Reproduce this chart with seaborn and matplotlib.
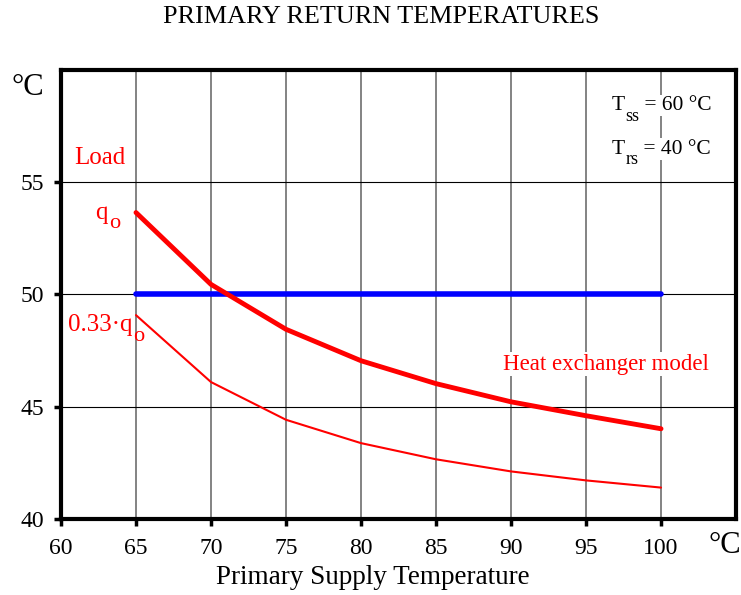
import numpy as np
import pandas as pd
import matplotlib
matplotlib.use('Agg')
import matplotlib.pyplot as plt
import seaborn as sns

# supply temperatures (x) and return temperatures for the two load cases
supply = [65, 70, 75, 80, 85, 90, 95, 100]
return_full = [53.65, 50.45, 48.45, 47.05, 46.03, 45.22, 44.6, 44.02]
return_033 = [49.08, 46.1, 44.42, 43.38, 42.66, 42.12, 41.72, 41.4]
blue_x = [65, 100]
blue_y = [50, 50]

df = pd.DataFrame({'supply': supply, 'full': return_full, 'part': return_033})
df_blue = pd.DataFrame({'supply': blue_x, 'ret': blue_y})

sns.set_style('white')
plt.rcParams['font.family'] = ['Liberation Serif', 'DejaVu Serif']
plt.rcParams['text.color'] = 'black'
plt.rcParams['axes.labelcolor'] = 'black'
plt.rcParams['xtick.color'] = 'black'
plt.rcParams['ytick.color'] = 'black'

fig = plt.figure(figsize=(7.41, 5.95), dpi=100)
ax = fig.add_axes([0.0823, 0.1277, 0.911, 0.7547])

# grid: grey verticals, black horizontals
for x in range(65, 101, 5):
    ax.axvline(x, color='#7a7a7a', lw=1.3, zorder=0)
for y in [45, 50, 55]:
    ax.axhline(y, color='black', lw=0.8, zorder=0)

sns.lineplot(data=df, x='supply', y='full', color='#ff0000', lw=3.5, ax=ax, zorder=3)
sns.lineplot(data=df, x='supply', y='part', color='#ff0000', lw=1.5, ax=ax, zorder=3)
sns.lineplot(data=df_blue, x='supply', y='ret', color='#0000ff', lw=4, ax=ax, zorder=2)

ax.set_xlim(60, 105)
ax.set_ylim(40, 60)
ax.set_xticks(range(60, 101, 5))
ax.set_yticks([40, 45, 50, 55])
ax.tick_params(bottom=True, left=True, direction='out', length=5, width=2.5,
               labelsize=17, color='black')
ax.tick_params(axis='x', pad=9)
ax.tick_params(axis='y', pad=7)
for s in ax.spines.values():
    s.set_linewidth(3)
    s.set_color('black')

ax.set_xlabel('')
ax.set_ylabel('')
fig.text(0.503, 0.029, 'Primary Supply Temperature', ha='center', va='center', fontsize=19.5)
fig.text(0.514, 0.972, 'PRIMARY RETURN TEMPERATURES', ha='center', va='center', fontsize=18.8)

fig.text(0.037, 0.853, '°C', fontsize=22, ha='center', va='center')
fig.text(0.978, 0.084, '°C', fontsize=22, ha='center', va='center')


def sub_text(x, y, main, sub, rest='', size=18, subsize=15, drop=-6, color='black', bbox=None):
    # main text, lowered subscript, then the rest on the main baseline
    t = ax.text(x, y, main, color=color, fontsize=size, ha='left', va='bottom', bbox=bbox)
    s = ax.annotate(sub, xy=(1, 0), xycoords=t, xytext=(0.5, drop), textcoords='offset points',
                    color=color, fontsize=subsize, ha='left', va='bottom', bbox=bbox)
    if rest:
        ax.annotate(rest, xy=(1, 0), xycoords=(s, t), xytext=(0, 0), textcoords='offset points',
                    color=color, fontsize=size, ha='left', va='bottom', bbox=bbox)


box = dict(facecolor='white', edgecolor='none', pad=1)
red = '#ff0000'
ax.text(60.9, 56.1, 'Load', color=red, fontsize=18, ha='left', va='center')
sub_text(62.3, 53.15, 'q', 'o', color=red, size=18, subsize=16, drop=-7)
sub_text(60.45, 48.15, '0.33·q', 'o', color=red, size=18, subsize=16, drop=-7)
ax.text(96.3, 46.9, 'Heat exchanger model', color=red, fontsize=16.5, ha='center', va='center', bbox=box)
sub_text(96.7, 58.0, 'T', 'ss', ' = 60 °C', size=15.5, subsize=13, drop=-7, bbox=box)
sub_text(96.7, 56.05, 'T', 'rs', ' = 40 °C', size=15.5, subsize=13, drop=-7, bbox=box)

fig.savefig('out.png', dpi=100)
